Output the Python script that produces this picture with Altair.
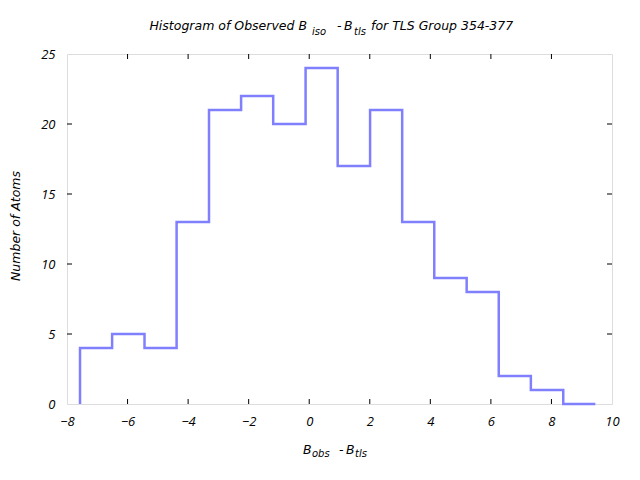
import altair as alt
import pandas as pd

# Bin edges and counts per bin
edges = [-7.57, -6.51, -5.44, -4.38, -3.31, -2.25, -1.19, -0.12, 0.94, 2.01,
         3.07, 4.13, 5.20, 6.26, 7.32, 8.39, 9.45]
counts = [4, 5, 4, 13, 21, 22, 20, 24, 17, 21, 13, 9, 8, 2, 1, 0]

x_ticks = [-8, -6, -4, -2, 0, 2, 4, 6, 8, 10]
y_ticks = [0, 5, 10, 15, 20, 25]
x_inner = [-6, -4, -2, 0, 2, 4, 6, 8]
y_inner = [5, 10, 15, 20]

W, H = 545, 350
FONT = "Open Sans"
TFONT = "DejaVu Sans"
COLOR = "#8080ff"
FS = 13
TS = 12.5
SUB = 10

step_x = [edges[0]] + edges
step_y = [0] + counts + [counts[-1]]
step_df = pd.DataFrame({"x": step_x, "y": step_y, "i": list(range(len(step_x)))})

xs = alt.Scale(domain=[-8, 10], nice=False, zero=False)
ys = alt.Scale(domain=[0, 25], nice=False)

base = alt.Chart(step_df)
line = base.mark_line(interpolate="step-after", color=COLOR, strokeWidth=2.5).encode(
    x=alt.X("x:Q", scale=xs,
            axis=alt.Axis(values=x_ticks, tickSize=0, domain=False, grid=False, title=None,
                          labelFont=FONT, labelFontStyle="italic", labelFontSize=FS,
                          labelPadding=11, labelColor="black", labelFlush=False)),
    y=alt.Y("y:Q", scale=ys,
            axis=alt.Axis(values=y_ticks, tickSize=0, domain=False, grid=False, title=None,
                          labelFont=FONT, labelFontStyle="italic", labelFontSize=FS,
                          labelPadding=12, labelColor="black", labelFlush=False)),
    order="i:O",
)

xt_df = pd.DataFrame({"v": x_inner})
yt_df = pd.DataFrame({"v": y_inner})
tick_len = 5
xb = alt.Chart(xt_df).mark_rule(color="black", strokeWidth=1).encode(
    x=alt.X("v:Q", scale=xs), y=alt.value(H), y2=alt.value(H - tick_len))
xtp = alt.Chart(xt_df).mark_rule(color="black", strokeWidth=1).encode(
    x=alt.X("v:Q", scale=xs), y=alt.value(0), y2=alt.value(tick_len))
yl = alt.Chart(yt_df).mark_rule(color="black", strokeWidth=1).encode(
    y=alt.Y("v:Q", scale=ys), x=alt.value(0), x2=alt.value(tick_len))
yr = alt.Chart(yt_df).mark_rule(color="black", strokeWidth=1).encode(
    y=alt.Y("v:Q", scale=ys), x=alt.value(W), x2=alt.value(W - tick_len))

one = pd.DataFrame({"a": [0]})


def txt(s, x, y, size=TS, align="left", angle=0, baseline="alphabetic"):
    kw = dict(font=TFONT, fontStyle="italic", fontSize=size, align=align,
              baseline=baseline, color="black")
    if angle:
        kw["angle"] = angle
    return alt.Chart(one).mark_text(**kw).encode(
        x=alt.value(x), y=alt.value(y), text=alt.value(s))


title_parts = [
    txt("Histogram of Observed B", 240, -24, align="right"),
    txt("iso", 245, -19, size=SUB),
    txt("-", 270, -24),
    txt("B", 277, -24),
    txt("tls", 287, -19, size=SUB),
    txt("for TLS Group 354-377", 304, -24),
]
xtitle_parts = [
    txt("B", 236, 400),
    txt("obs", 245, 403, size=SUB),
    txt("-", 272, 400),
    txt("B", 279, 400),
    txt("tls", 288, 403, size=SUB),
]
ytitle = txt("Number of Atoms", -51, 172, align="center", angle=270, baseline="middle")

chart = alt.layer(line, xb, xtp, yl, yr, *title_parts, *xtitle_parts, ytitle).properties(
    width=W, height=H,
    autosize=alt.AutoSizeParams(type="none"),
    padding={"left": 67, "top": 54, "right": 28, "bottom": 76},
).configure_view(stroke="black", strokeWidth=1).configure(background="white")

chart.save("out.html", embed_options={"renderer": "svg", "actions": False})
